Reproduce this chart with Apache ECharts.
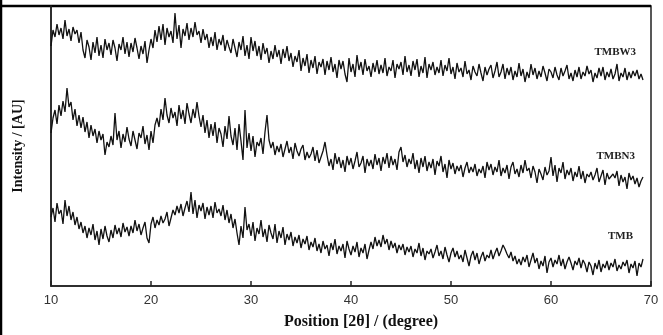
<!DOCTYPE html>
<html>
<head>
<meta charset="utf-8">
<script src="https://cdn.jsdelivr.net/npm/echarts@6/dist/echarts.min.js"></script>
<style>
  html, body { margin: 0; padding: 0; background: #fff; }
  #chart { width: 663px; height: 335px; }
</style>
</head>
<body>
<div id="chart"></div>
<script>
// XRD patterns, 2θ from 10° to 69.2° in 0.2° steps (intensity in arbitrary units, curves stacked)
const twoThetaStart = 10.0;
const twoThetaStep = 0.2;
const xTicks = [10, 20, 30, 40, 50, 60, 70];
const seriesNames = ['TMBW3', 'TMBN3', 'TMB'];

const tmbw3 = [
  240, 256, 249, 262, 251,  258, 247, 266, 250, 257,  245, 259, 252, 256, 243,  254, 236, 228, 246, 239,
  226, 244, 233, 249, 230,  241, 228, 247, 236, 243,  231, 246, 238, 225, 242,  236, 249, 232, 244, 229,
  243, 234, 248, 238, 227,  240, 232, 245, 223, 236,  247, 238, 256, 244, 260,  246, 262, 241, 258, 249,
  255, 243, 273, 247, 261,  238, 257, 250, 263, 246,  258, 249, 264, 251, 255,  243, 257, 246, 252, 238,
  249, 240, 254, 236, 247,  241, 251, 235, 246, 239,  233, 247, 238, 229, 244,  236, 250, 230, 241, 227,
  249, 235, 245, 230, 240,  226, 243, 232, 238, 223,  235, 227, 241, 229, 236,  222, 237, 228, 240, 225,
  233, 219, 230, 224, 236,  215, 228, 220, 232, 213,  226, 218, 230, 212, 224,  219, 227, 211, 225, 216,
  229, 214, 222, 208, 226,  217, 225, 212, 204, 228,  214, 222, 209, 231, 216,  224, 211, 227, 215, 220,
  209, 223, 214, 226, 212,  221, 213, 228, 210, 219,  215, 226, 208, 222, 217,  224, 211, 230, 214, 221,
  210, 225, 216, 227, 209,  220, 213, 229, 208, 222,  216, 224, 211, 219, 213,  226, 210, 221, 215, 228,
  212, 219, 207, 223, 214,  218, 209, 225, 212, 216,  206, 220, 214, 210, 222,  213, 205, 219, 211, 217,
  221, 208, 215, 224, 209,  214, 222, 207, 218, 211,  219, 206, 215, 209, 223,  210, 217, 204, 214, 208,
  222, 211, 218, 207, 215,  209, 220, 213, 205, 217,  214, 208, 219, 211, 206,  218, 210, 215, 221, 207,
  213, 205, 216, 209, 219,  207, 214, 210, 220, 212,  216, 204, 213, 208, 218,  210, 219, 206, 214, 209,
  217, 207, 212, 222, 205,  213, 209, 218, 206, 214,  208, 215, 210, 216, 207,  212, 206
];

const tmbn3 = [
  153, 168, 176, 162, 181,  170, 185, 174, 198, 179,  184, 166, 177, 160, 171,  158, 169, 154, 164, 148,
  161, 150, 157, 143, 155,  146, 152, 131, 144, 139,  150, 141, 173, 146, 155,  138, 152, 144, 159, 147,
  140, 155, 146, 137, 153,  148, 160, 142, 151, 136,  155, 143, 161, 168, 159,  177, 166, 188, 171, 163,
  178, 168, 174, 160, 181,  167, 176, 162, 183, 172,  163, 177, 168, 184, 170,  159, 171, 153, 166, 148,
  162, 150, 164, 143, 158,  152, 139, 160, 147, 170,  150, 141, 158, 136, 162,  145, 126, 176, 138, 153,
  135, 150, 129, 144, 140,  148, 132, 154, 171, 146,  138, 144, 131, 140, 134,  142, 129, 137, 145, 133,
  139, 127, 143, 135, 130,  137, 141, 126, 134, 128,  132, 139, 125, 136, 123,  129, 135, 144, 131, 120,
  127, 116, 133, 122, 129,  118, 126, 114, 130, 121,  128, 117, 125, 134, 119,  123, 130, 113, 127, 120,
  126, 117, 132, 121, 128,  115, 129, 122, 133, 118,  130, 121, 127, 116, 134,  139, 124, 131, 119, 127,
  122, 133, 117, 126, 113,  128, 119, 130, 115, 124,  118, 127, 111, 125, 120,  130, 114, 122, 108, 126,
  117, 123, 112, 120, 115,  121, 109, 118, 124, 113,  119, 114, 122, 110, 117,  113, 120, 108, 124, 116,
  122, 111, 119, 114, 126,  110, 118, 113, 121, 107,  119, 124, 112, 117, 109,  121, 113, 126, 115, 118,
  108, 120, 114, 103, 117,  112, 106, 119, 111, 115,  129, 110, 121, 104, 118,  113, 124, 107, 116, 111,
  118, 105, 114, 109, 120,  107, 115, 103, 112, 109,  114, 106, 111, 118, 104,  110, 116, 101, 113, 107,
  105, 112, 108, 115, 100,  111, 104, 109, 97, 113,   106, 110, 102, 108, 99,   105, 109
];

const tmb = [
  69, 78, 64, 83, 72,  76, 62, 86, 70, 80,  66, 74, 61, 69, 57,  64, 53, 60, 48, 58,
  51, 62, 46, 55, 41,  57, 47, 60, 50, 44,  56, 48, 61, 52, 58,  49, 63, 54, 59, 50,
  60, 53, 66, 55, 62,  51, 58, 64, 48, 43,  62, 69, 58, 66, 61,  70, 63, 67, 74, 60,
  68, 76, 71, 80, 73,  82, 70, 78, 85, 74,  94, 72, 86, 68, 81,  75, 83, 67, 79, 71,
  80, 68, 84, 73, 77,  70, 81, 66, 76, 63,  72, 58, 67, 53, 41,  60, 48, 79, 56, 62,
  50, 64, 45, 58, 52,  66, 49, 57, 44, 61,  53, 47, 62, 43, 55,  48, 59, 41, 52, 46,
  54, 40, 49, 43, 51,  38, 47, 42, 50, 36,  44, 39, 48, 35, 42,  33, 45, 37, 41, 30,
  43, 36, 47, 32, 40,  35, 42, 28, 45, 37,  31, 40, 34, 44, 29,  38, 33, 42, 27, 36,
  44, 37, 49, 40, 46,  39, 51, 42, 47, 36,  45, 38, 43, 33, 41,  36, 42, 31, 39, 34,
  40, 29, 37, 33, 43,  30, 38, 26, 35, 32,  37, 28, 34, 41, 30,  35, 27, 39, 31, 24,
  33, 38, 29, 35, 27,  31, 24, 36, 28, 20,  30, 35, 26, 33, 22,  29, 34, 25, 31, 28,
  36, 27, 33, 38, 30,  35, 41, 37, 32, 28,  34, 25, 30, 22, 27,  21, 29, 24, 31, 19,
  26, 33, 23, 28, 17,  25, 20, 30, 13, 24,  28, 19, 26, 22, 31,  20, 27, 17, 24, 29,
  23, 16, 25, 21, 28,  18, 26, 22, 14, 24,  20, 11, 23, 17, 26,  14, 22, 18, 25, 16,
  23, 19, 27, 15, 21,  17, 24, 20, 26, 13,  22, 18, 25, 10, 23,  19, 27
];

// pair each intensity with its 2θ position
function toPoints(values) {
  return values.map((v, i) => [+(twoThetaStart + i * twoThetaStep).toFixed(1), v]);
}

const serif = '"Liberation Serif", "Times New Roman", serif';
const sans = '"Liberation Sans", Arial, sans-serif';

const chart = echarts.init(document.getElementById('chart'), null, { renderer: 'canvas' });

const lineStyle = { color: '#111', width: 1.3 };

chart.setOption({
  animation: false,
  backgroundColor: '#fff',
  grid: {
    left: 51, right: 12, top: 6, height: 280,
    show: true, borderColor: '#222', borderWidth: 1.5, backgroundColor: 'transparent'
  },
  xAxis: {
    type: 'value',
    min: xTicks[0], max: xTicks[xTicks.length - 1], interval: 10,
    name: 'Position [2θ] / (degree)',
    nameLocation: 'middle',
    nameGap: 28,
    nameTextStyle: { fontFamily: serif, fontWeight: 'bold', fontSize: 16, color: '#111', padding: [0, 0, 0, 20] },
    axisLine: { show: true, lineStyle: { color: '#222', width: 1.5 } },
    axisTick: { show: true, inside: true, length: 5, lineStyle: { color: '#222', width: 1.5 } },
    axisLabel: { fontFamily: sans, fontSize: 13, color: '#333', margin: 8 },
    splitLine: { show: false }
  },
  yAxis: {
    type: 'value',
    min: 0, max: 280,
    name: 'Intensity / [AU]',
    nameLocation: 'middle',
    nameGap: 26,
    nameTextStyle: { fontFamily: serif, fontWeight: 'bold', fontSize: 14, color: '#111' },
    axisLine: { show: true, lineStyle: { color: '#222', width: 1.5 } },
    axisTick: { show: false },
    axisLabel: { show: false },
    splitLine: { show: false }
  },
  series: [
    { name: seriesNames[0], type: 'line', data: toPoints(tmbw3), showSymbol: false, symbol: 'none', lineStyle },
    { name: seriesNames[1], type: 'line', data: toPoints(tmbn3), showSymbol: false, symbol: 'none', lineStyle },
    { name: seriesNames[2], type: 'line', data: toPoints(tmb), showSymbol: false, symbol: 'none', lineStyle }
  ],
  graphic: [
    // outer frame strokes
    { type: 'line', shape: { x1: 1, y1: 0, x2: 1, y2: 335 }, style: { stroke: '#000', lineWidth: 2.5 } },
    { type: 'line', shape: { x1: 0, y1: 6, x2: 651, y2: 6 }, style: { stroke: '#000', lineWidth: 2.5 } },
    // curve captions
    { type: 'text', right: 27, top: 47, style: { text: seriesNames[0], font: 'bold 11px ' + serif, fill: '#222' } },
    { type: 'text', right: 28, top: 151, style: { text: seriesNames[1], font: 'bold 11px ' + serif, fill: '#222' } },
    { type: 'text', right: 30, top: 231, style: { text: seriesNames[2], font: 'bold 11px ' + serif, fill: '#222' } }
  ]
});
</script>
</body>
</html>
